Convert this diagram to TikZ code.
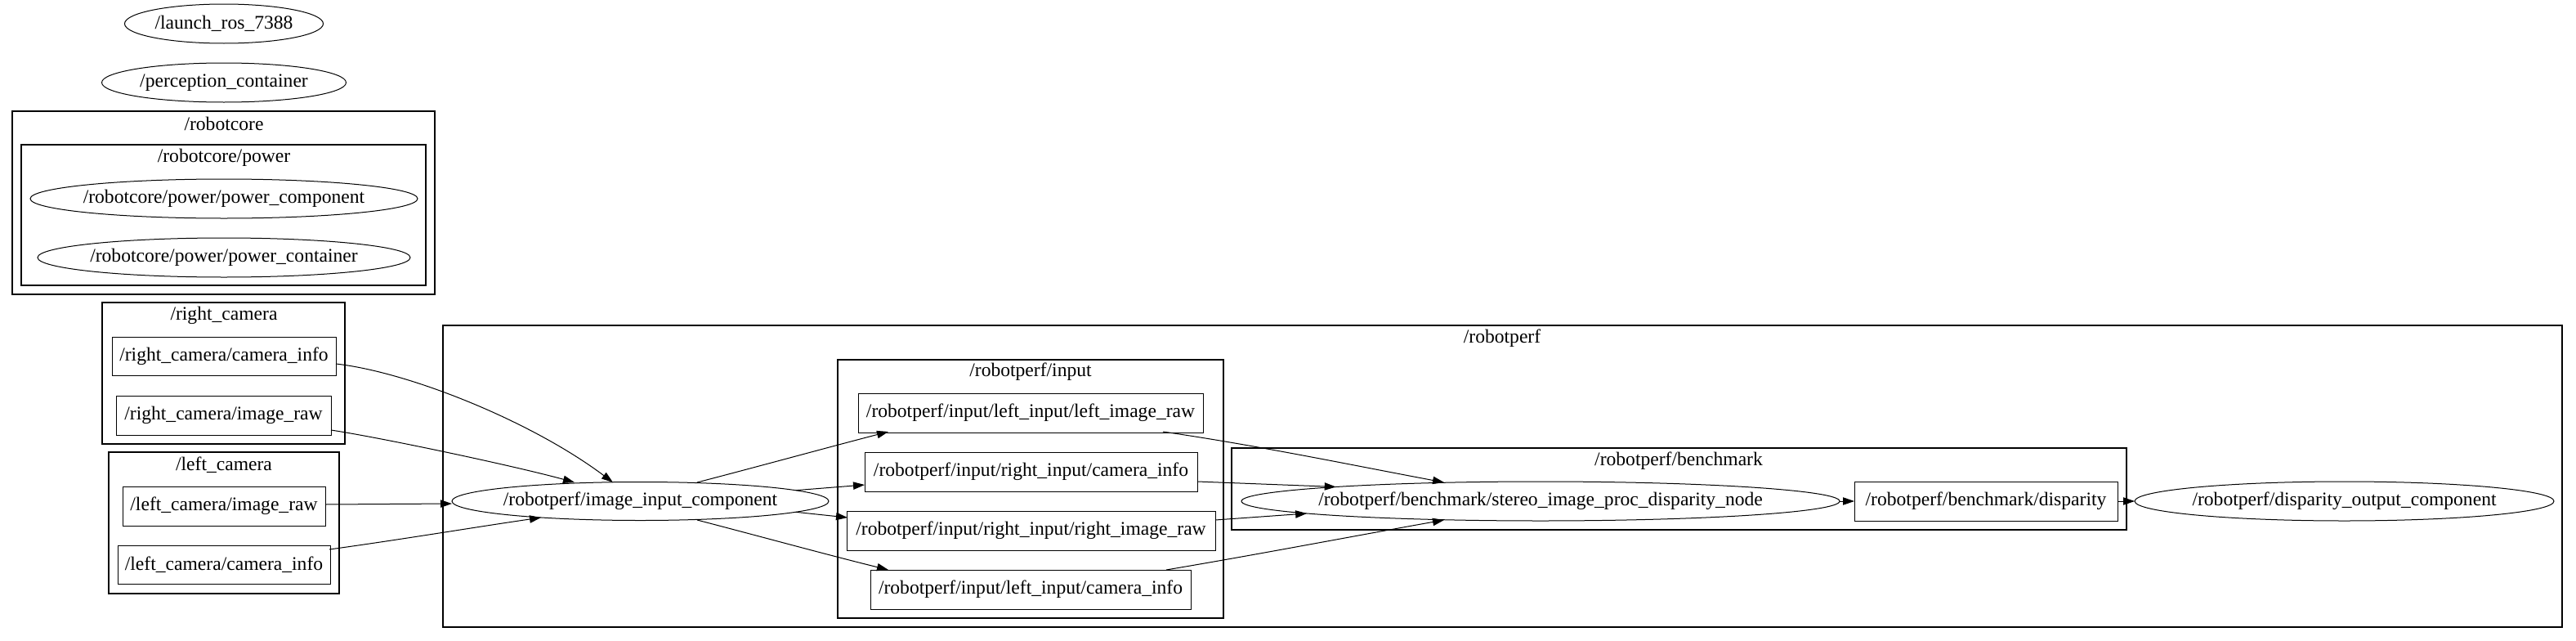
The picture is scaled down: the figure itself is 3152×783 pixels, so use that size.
\documentclass[tikz,border=0pt]{standalone}
\usepackage{fontspec}
\setmainfont{Liberation Serif}
\usetikzlibrary{shapes.geometric,arrows.meta,calc}
\def\u{0.6pt}
\begin{document}
\begin{tikzpicture}[x=0.6pt,y=-0.6pt,
  every node/.style={font=\fontsize{14.15pt}{17pt}\selectfont, inner sep=0pt, outer sep=0pt},
  ell/.style={draw, ellipse, line width=0.6pt},
  topic/.style={draw, rectangle, line width=0.6pt, minimum height=48*\u},
  cluster/.style={draw, line width=1.25pt},
  conn/.style={line width=0.6pt, -{Triangle[length=8.4pt,width=5.6pt]}}]
\useasboundingbox (0,0) rectangle (3152,783);

% clusters
\draw[cluster] (15,136) rectangle (532,360);
\draw[cluster] (26,177) rectangle (521,349);
\draw[cluster] (125,370) rectangle (422,543);
\draw[cluster] (133,553) rectangle (415,726);
\draw[cluster] (542,398) rectangle (3135,767);
\draw[cluster] (1025,440) rectangle (1497,756);
\draw[cluster] (1507,548) rectangle (2602,648);

\node (l-robotcore) at (274,151) {/robotcore};
\node (l-power) at (274,193) {/robotcore/power};
\node (l-right) at (274,386) {/right\_camera};
\node (l-left) at (274,569) {/left\_camera};
\node (l-robotperf) at (1838,414) {/robotperf};
\node (l-input) at (1261,455) {/robotperf/input};
\node (l-bench) at (2054,564) {/robotperf/benchmark};

% ellipses
\node[ell, minimum width=243*\u, minimum height=48*\u] (launch) at (274,29) {};
\node (launch-t) at (launch) {/launch\_ros\_7388};
\node[ell, minimum width=299*\u, minimum height=48*\u] (percep) at (274,101) {};
\node (percep-t) at (percep) {/perception\_container};
\node[ell, minimum width=474*\u, minimum height=48*\u] (pcomp) at (274,243) {};
\node (pcomp-t) at (pcomp) {/robotcore/power/power\_component};
\node[ell, minimum width=456*\u, minimum height=48*\u] (pcont) at (274,315) {};
\node (pcont-t) at (pcont) {/robotcore/power/power\_container};
\node[ell, minimum width=461*\u, minimum height=47*\u] (iic) at (783.5,613) {};
\node (iic-t) at (iic) {/robotperf/image\_input\_component};
\node[ell, minimum width=732*\u, minimum height=48*\u] (stereo) at (1885,613) {};
\node (stereo-t) at (stereo) {/robotperf/benchmark/stereo\_image\_proc\_disparity\_node};
\node[ell, minimum width=513*\u, minimum height=48*\u] (dout) at (2868.5,613) {};
\node (dout-t) at (dout) {/robotperf/disparity\_output\_component};

% topics
\node[topic, minimum width=274*\u, minimum height=47*\u] (rcinfo) at (274,435.5) {/right\_camera/camera\_info};
\node[topic, minimum width=263*\u] (rcraw) at (273.5,508) {/right\_camera/image\_raw};
\node[topic, minimum width=248*\u] (lcraw) at (274,619) {/left\_camera/image\_raw};
\node[topic, minimum width=260*\u, minimum height=47*\u] (lcinfo) at (274,690.5) {/left\_camera/camera\_info};
\node[topic, minimum width=422*\u] (inlraw) at (1261,505) {/robotperf/input/left\_input/left\_image\_raw};
\node[topic, minimum width=407*\u] (inrinfo) at (1261.5,577) {/robotperf/input/right\_input/camera\_info};
\node[topic, minimum width=451*\u] (inrraw) at (1261.5,649) {/robotperf/input/right\_input/right\_image\_raw};
\node[topic, minimum width=392*\u] (inlinfo) at (1261,721) {/robotperf/input/left\_input/camera\_info};
\node[topic, minimum width=322*\u] (disp) at (2430,613) {/robotperf/benchmark/disparity};

% connectors
\draw[conn] ($(rcinfo.east)+(0,9.5)$) .. controls (500,455) and (650,515) .. ($(iic.north)+(-33.5,0.5)$);
\draw[conn] ($(rcraw.east)+(0,18)$) .. controls (470,536) and (630,570) .. ($(iic.north)+(-80.5,0.5)$);
\draw[conn] ($(lcraw.east)+(0,-2)$) -- ($(iic.west)+(0,3)$);
\draw[conn] ($(lcinfo.east)+(-1,-18.5)$) .. controls (490,660) and (580,645) .. ($(iic.south)+(-121.5,-3.5)$);

\draw[conn] ($(iic.north)+(69.5,0.5)$) .. controls (930,570) and (1010,548) .. ($(inlraw.south)+(-174,-1)$);
\draw[conn] (iic.4) -- ($(inrinfo.west)+(0,16)$);
\draw[conn] (iic.-4) -- ($(inrraw.west)+(1,-16)$);
\draw[conn] ($(iic.south)+(69.5,-0.5)$) .. controls (930,656) and (1010,678) .. ($(inlinfo.north)+(-174,0)$);

\draw[conn] ($(inlraw.south)+(162,-1)$) .. controls (1540,545) and (1660,570) .. ($(stereo.north)+(-118,1)$);
\draw[conn] ($(inrinfo.east)+(0,12)$) -- (stereo.176.7);
\draw[conn] ($(inrraw.east)+(0,-13)$) -- (stereo.183.3);
\draw[conn] ($(inlinfo.north)+(166,0)$) .. controls (1540,678) and (1660,655) .. ($(stereo.south)+(-118,-1)$);

\draw[conn] (stereo.east) -- (disp.west);
\draw[conn] (disp.east) -- (dout.west);
\end{tikzpicture}
\end{document}
